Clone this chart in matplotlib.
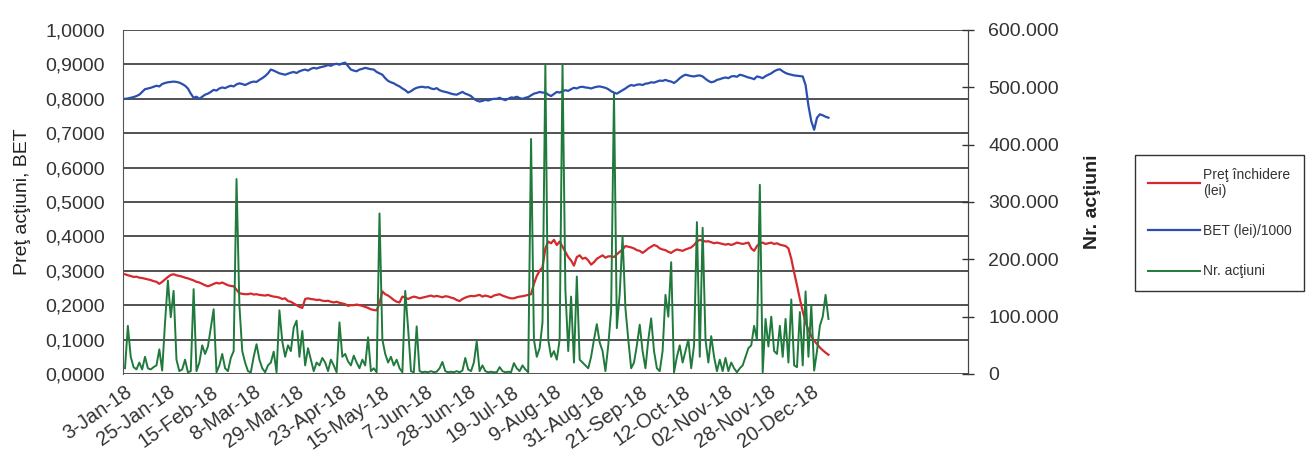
import matplotlib
matplotlib.use("Agg")
import matplotlib.pyplot as plt
from matplotlib.ticker import FuncFormatter, MultipleLocator

plt.rcParams['font.family'] = ['Liberation Sans', 'DejaVu Sans']

# etichete axa X (una la 15 sedinte de tranzactionare)
date_labels = ["3-Jan-18", "25-Jan-18", "15-Feb-18", "8-Mar-18", "29-Mar-18",
               "23-Apr-18", "15-May-18", "7-Jun-18", "28-Jun-18", "19-Jul-18",
               "9-Aug-18", "31-Aug-18", "21-Sep-18", "12-Oct-18", "02-Nov-18",
               "28-Nov-18", "20-Dec-18"]

# pret inchidere (lei)
pret = [
    0.290, 0.287, 0.285, 0.282, 0.283, 0.280, 0.279, 0.277, 0.275, 0.273,
    0.270, 0.268, 0.262, 0.268, 0.275, 0.282, 0.288, 0.290, 0.287, 0.285,
    0.283, 0.280, 0.278, 0.275, 0.272, 0.268, 0.266, 0.262, 0.258, 0.255,
    0.258, 0.262, 0.265, 0.263, 0.266, 0.262, 0.258, 0.256, 0.255, 0.245,
    0.235, 0.233, 0.232, 0.232, 0.234, 0.231, 0.232, 0.230, 0.229, 0.228,
    0.230, 0.227, 0.225, 0.224, 0.222, 0.218, 0.220, 0.212, 0.210, 0.205,
    0.200, 0.195, 0.192, 0.218, 0.220, 0.218, 0.217, 0.215, 0.216, 0.213,
    0.212, 0.213, 0.210, 0.208, 0.210, 0.207, 0.205, 0.203, 0.198, 0.200,
    0.200, 0.202, 0.200, 0.198, 0.195, 0.192, 0.188, 0.186, 0.185, 0.205,
    0.240, 0.232, 0.228, 0.222, 0.215, 0.210, 0.208, 0.225, 0.222, 0.218,
    0.222, 0.225, 0.223, 0.220, 0.222, 0.224, 0.226, 0.228, 0.225, 0.227,
    0.225, 0.223, 0.226, 0.225, 0.222, 0.220, 0.215, 0.212, 0.218, 0.222,
    0.225, 0.227, 0.226, 0.228, 0.230, 0.225, 0.228, 0.226, 0.223, 0.228,
    0.230, 0.232, 0.228, 0.225, 0.222, 0.220, 0.220, 0.223, 0.225, 0.226,
    0.228, 0.230, 0.232, 0.262, 0.285, 0.300, 0.310, 0.365, 0.385, 0.380,
    0.390, 0.375, 0.385, 0.370, 0.355, 0.340, 0.330, 0.315, 0.340, 0.345,
    0.335, 0.338, 0.330, 0.318, 0.325, 0.335, 0.340, 0.345, 0.338, 0.342,
    0.342, 0.340, 0.348, 0.355, 0.362, 0.372, 0.370, 0.368, 0.365, 0.360,
    0.358, 0.352, 0.358, 0.365, 0.370, 0.375, 0.372, 0.365, 0.362, 0.360,
    0.355, 0.352, 0.358, 0.362, 0.360, 0.358, 0.362, 0.365, 0.368, 0.375,
    0.385, 0.390, 0.388, 0.385, 0.386, 0.383, 0.380, 0.382, 0.380, 0.378,
    0.376, 0.378, 0.375, 0.378, 0.382, 0.380, 0.378, 0.380, 0.382, 0.365,
    0.358, 0.372, 0.380, 0.382, 0.378, 0.380, 0.382, 0.378, 0.380, 0.376,
    0.374, 0.372, 0.365, 0.335, 0.295, 0.258, 0.218, 0.182, 0.150, 0.128,
    0.110, 0.097, 0.087, 0.077, 0.069, 0.062, 0.056,
]

# indicele BET / 1000
bet = [
    0.800, 0.801, 0.803, 0.805, 0.808, 0.812, 0.820, 0.828, 0.830, 0.832,
    0.835, 0.838, 0.836, 0.843, 0.846, 0.848, 0.849, 0.850, 0.849, 0.847,
    0.843, 0.838, 0.830, 0.815, 0.803, 0.806, 0.800, 0.806, 0.812, 0.815,
    0.820, 0.826, 0.824, 0.830, 0.833, 0.831, 0.835, 0.838, 0.836, 0.842,
    0.845, 0.843, 0.840, 0.844, 0.848, 0.850, 0.849, 0.855, 0.860, 0.866,
    0.874, 0.885, 0.882, 0.878, 0.874, 0.872, 0.870, 0.873, 0.876, 0.878,
    0.875, 0.880, 0.883, 0.885, 0.882, 0.887, 0.890, 0.888, 0.891, 0.893,
    0.895, 0.898, 0.896, 0.900, 0.902, 0.899, 0.903, 0.905, 0.895, 0.885,
    0.882, 0.880, 0.885, 0.887, 0.890, 0.888, 0.886, 0.885, 0.878, 0.874,
    0.870, 0.860, 0.852, 0.848, 0.845, 0.840, 0.836, 0.830, 0.825, 0.818,
    0.822, 0.828, 0.832, 0.834, 0.835, 0.833, 0.834, 0.830, 0.828, 0.831,
    0.825, 0.822, 0.820, 0.818, 0.815, 0.813, 0.812, 0.816, 0.820, 0.815,
    0.812, 0.808, 0.800, 0.795, 0.792, 0.794, 0.797, 0.795, 0.798, 0.800,
    0.800, 0.803, 0.799, 0.796, 0.800, 0.804, 0.803, 0.806, 0.802, 0.800,
    0.803, 0.805, 0.810, 0.815, 0.817, 0.820, 0.818, 0.818, 0.812, 0.808,
    0.814, 0.820, 0.818, 0.822, 0.825, 0.823, 0.828, 0.832, 0.830, 0.834,
    0.835, 0.833, 0.832, 0.830, 0.833, 0.835, 0.836, 0.834, 0.832, 0.828,
    0.822, 0.818, 0.815, 0.820, 0.825, 0.830, 0.836, 0.840, 0.838, 0.841,
    0.842, 0.840, 0.844, 0.845, 0.848, 0.847, 0.850, 0.853, 0.852, 0.855,
    0.852, 0.850, 0.846, 0.852, 0.860, 0.866, 0.870, 0.868, 0.866, 0.865,
    0.867, 0.868, 0.865, 0.858, 0.852, 0.848, 0.850, 0.855, 0.857, 0.860,
    0.862, 0.860, 0.865, 0.866, 0.864, 0.870, 0.868, 0.865, 0.862, 0.860,
    0.857, 0.865, 0.863, 0.860, 0.866, 0.870, 0.874, 0.880, 0.884, 0.886,
    0.880, 0.875, 0.872, 0.870, 0.868, 0.867, 0.866, 0.865, 0.840, 0.780,
    0.735, 0.710, 0.745, 0.755, 0.752, 0.748, 0.745,
]

# numar actiuni tranzactionate
nr_actiuni = [
    10000, 84000, 30000, 12000, 8000, 20000, 8000, 30000, 10000, 8000,
    12000, 15000, 43000, 6000, 90000, 163000, 99000, 145000, 25000, 5000,
    8000, 25000, 3000, 5000, 148000, 5000, 20000, 50000, 35000, 48000,
    80000, 113000, 3000, 15000, 35000, 10000, 5000, 28000, 40000, 340000,
    120000, 40000, 20000, 5000, 3000, 30000, 52000, 25000, 10000, 3000,
    15000, 20000, 39000, 3000, 111000, 57000, 30000, 50000, 40000, 81000,
    93000, 30000, 75000, 15000, 45000, 25000, 5000, 20000, 15000, 28000,
    20000, 5000, 25000, 15000, 3000, 90000, 30000, 35000, 22000, 15000,
    32000, 20000, 10000, 25000, 15000, 64000, 5000, 10000, 3000, 280000,
    60000, 35000, 20000, 30000, 15000, 25000, 10000, 3000, 145000, 80000,
    5000, 3000, 83000, 5000, 3000, 4000, 3000, 5000, 3000, 4000,
    10000, 21000, 5000, 3000, 4000, 3000, 5000, 3000, 6000, 28000,
    8000, 5000, 20000, 57000, 5000, 15000, 5000, 3000, 4000, 3000,
    3000, 12000, 5000, 3000, 4000, 3000, 19000, 10000, 5000, 15000,
    8000, 3000, 410000, 60000, 30000, 45000, 90000, 540000, 60000, 30000,
    40000, 25000, 60000, 540000, 147000, 40000, 135000, 20000, 170000, 25000,
    20000, 15000, 10000, 30000, 60000, 87000, 55000, 40000, 5000, 50000,
    110000, 490000, 80000, 140000, 240000, 115000, 60000, 10000, 20000, 50000,
    86000, 40000, 10000, 60000, 97000, 40000, 10000, 5000, 40000, 138000,
    100000, 195000, 3000, 30000, 50000, 20000, 40000, 60000, 10000, 50000,
    265000, 30000, 255000, 60000, 20000, 66000, 30000, 5000, 25000, 5000,
    28000, 5000, 20000, 10000, 3000, 10000, 15000, 30000, 45000, 50000,
    84000, 60000, 330000, 3000, 96000, 48000, 100000, 40000, 35000, 84000,
    30000, 96000, 20000, 130000, 15000, 12000, 108000, 15000, 144000, 30000,
    120000, 6000, 40000, 84000, 100000, 138000, 96000,
]

x = list(range(len(pret)))

fig = plt.figure(figsize=(13.06, 4.57), dpi=100)
ax = fig.add_axes([123 / 1306, 1 - 374 / 457, 845 / 1306, 344 / 457])

l1, = ax.plot(x, pret, color='#d42a2e', lw=1.6, label='Preţ închidere\n(lei)')
l2, = ax.plot(x, bet, color='#2b4fae', lw=1.6, label='BET (lei)/1000')
ax.set_ylim(0, 1.0)
ax.set_xlim(-0.7, 294.8)
ax.yaxis.set_major_locator(MultipleLocator(0.1))
ax.yaxis.set_major_formatter(FuncFormatter(lambda v, p: f"{v:.4f}".replace('.', ',')))
ax.grid(axis='y', color='#222222', lw=1.1)
ax.set_axisbelow(True)
ax.tick_params(axis='y', length=0, pad=13, labelsize=14, colors='#333333')
ax.set_ylabel('Preţ acţiuni, BET', fontsize=14, color='#222222', labelpad=10)

ax.set_xticks(range(0, 15 * len(date_labels), 15))
ax.set_xticklabels(date_labels, rotation=35, ha='right', va='top',
                   rotation_mode='anchor', fontsize=14.5, color='#333333')
ax.tick_params(axis='x', length=0, pad=6)

for s in ['top', 'bottom']:
    ax.spines[s].set_visible(False)
ax.spines['left'].set_color('#555555')
ax.spines['right'].set_color('#444444')

ax2 = ax.twinx()
l3, = ax2.plot(x, nr_actiuni, color='#1f7a3c', lw=1.4, label='Nr. acţiuni')
ax2.set_ylim(0, 600000)
ax2.yaxis.set_major_locator(MultipleLocator(100000))
ax2.yaxis.set_major_formatter(
    FuncFormatter(lambda v, p: "0" if v == 0 else f"{int(v):,}".replace(',', '.')))
ax2.tick_params(axis='y', direction='inout', length=9, width=1, pad=10,
                labelsize=14, colors='#333333')
ax2.set_ylabel('Nr. acţiuni', fontsize=14, fontweight='bold', color='#222222', labelpad=18)
for s in ['top', 'bottom', 'left']:
    ax2.spines[s].set_visible(False)
ax2.spines['right'].set_color('#444444')

leg = fig.legend(handles=[l1, l2, l3], loc='upper left',
                 bbox_to_anchor=(1135 / 1306, 1 - 155 / 457),
                 fontsize=10, frameon=True, fancybox=False, edgecolor='black',
                 handlelength=3.8, handletextpad=0.2, labelspacing=1.9,
                 borderpad=0.9, borderaxespad=0)
leg.get_frame().set_linewidth(1.0)
for t in leg.get_texts():
    t.set_color('#333333')

fig.savefig('out.png', dpi=100, facecolor='white')
